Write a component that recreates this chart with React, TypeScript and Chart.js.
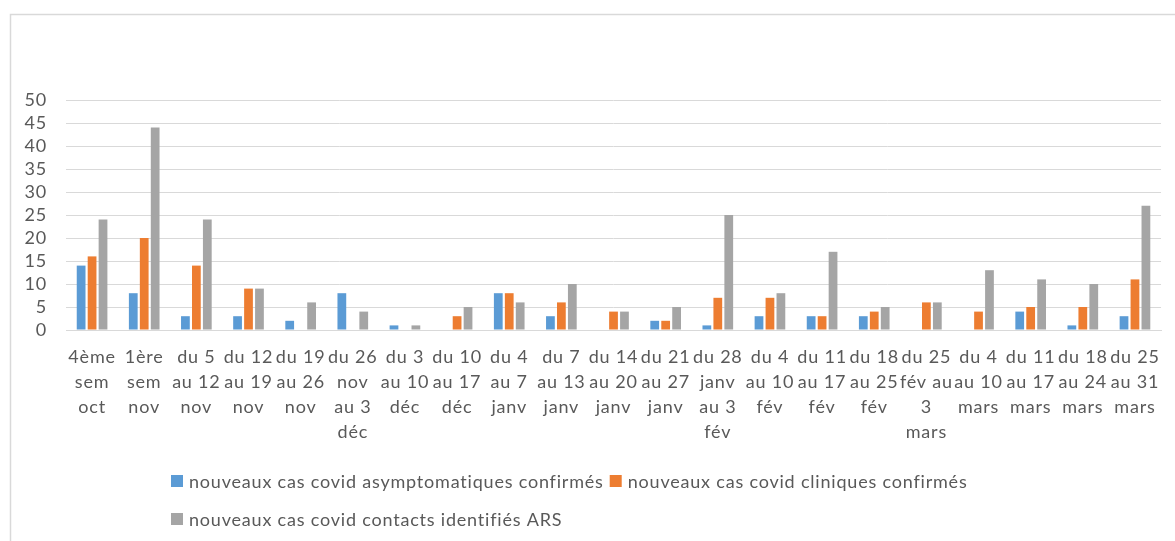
import React, { useEffect, useRef } from "react";
import { Chart, registerables } from "chart.js";

Chart.register(...registerables);

const categories: string[][] = [
  ["4ème", "sem", "oct"],
  ["1ère", "sem", "nov"],
  ["du 5", "au 12", "nov"],
  ["du 12", "au 19", "nov"],
  ["du 19", "au 26", "nov"],
  ["du 26", "nov", "au 3", "déc"],
  ["du 3", "au 10", "déc"],
  ["du 10", "au 17", "déc"],
  ["du 4", "au 7", "janv"],
  ["du 7", "au 13", "janv"],
  ["du 14", "au 20", "janv"],
  ["du 21", "au 27", "janv"],
  ["du 28", "janv", "au 3", "fév"],
  ["du 4", "au 10", "fév"],
  ["du 11", "au 17", "fév"],
  ["du 18", "au 25", "fév"],
  ["du 25", "fév au", "3", "mars"],
  ["du 4", "au 10", "mars"],
  ["du 11", "au 17", "mars"],
  ["du 18", "au 24", "mars"],
  ["du 25", "au 31", "mars"],
];

const asymptomatiques = [14, 8, 3, 3, 2, 8, 1, 0, 8, 3, 0, 2, 1, 3, 3, 3, 0, 0, 4, 1, 3];
const cliniques = [16, 20, 14, 9, 0, 0, 0, 3, 8, 6, 4, 2, 7, 7, 3, 4, 6, 4, 5, 5, 11];
const contacts = [24, 44, 24, 9, 6, 4, 1, 5, 6, 10, 4, 5, 25, 8, 17, 5, 6, 13, 11, 10, 27];

const seriesLabels = [
  "nouveaux cas covid asymptomatiques confirmés",
  "nouveaux cas covid cliniques confirmés",
  "nouveaux cas covid contacts identifiés ARS",
];
const seriesColors = ["#5B9BD5", "#ED7D31", "#A5A5A5"];

const yMin = 0;
const yMax = 50;
const yStep = 5;

const FONT = "Lato, 'Open Sans', sans-serif";
const TEXT_COLOR = "#595959";
const GRID_COLOR = "#D9D9D9";
const LETTER_SPACING = "0.8px";

const spacingPlugin = {
  id: "spacing",
  beforeLayout(chart: any) {
    (chart.ctx as any).letterSpacing = LETTER_SPACING;
  },
  beforeDraw(chart: any) {
    (chart.ctx as any).letterSpacing = LETTER_SPACING;
  },
};

const framePlugin = {
  id: "frame",
  beforeDraw(chart: any) {
    const ctx = chart.ctx;
    ctx.save();
    ctx.fillStyle = "#ffffff";
    ctx.fillRect(0, 0, chart.width, chart.height);
    ctx.strokeStyle = GRID_COLOR;
    ctx.lineWidth = 1.5;
    ctx.beginPath();
    ctx.moveTo(10.5, chart.height);
    ctx.lineTo(10.5, 14.5);
    ctx.lineTo(chart.width, 14.5);
    ctx.stroke();
    ctx.restore();
  },
};

const customLegend = {
  id: "customLegend",
  afterDraw(chart: any) {
    const ctx = chart.ctx;
    ctx.save();
    ctx.letterSpacing = LETTER_SPACING;
    ctx.font = `18px ${FONT}`;
    ctx.textBaseline = "middle";
    ctx.textAlign = "left";
    const startX = 171;
    const maxRight = 1000;
    let x = startX;
    let y = 481;
    const box = 12;
    chart.data.datasets.forEach((ds: any) => {
      const tw = ctx.measureText(ds.label).width;
      const w = box + 6 + tw;
      if (x > startX && x + w > maxRight) {
        x = startX;
        y += 38;
      }
      ctx.fillStyle = ds.backgroundColor;
      ctx.fillRect(x, y - box / 2, box, box);
      ctx.fillStyle = TEXT_COLOR;
      ctx.fillText(ds.label, x + box + 6, y + 1);
      x += w + 6;
    });
    ctx.restore();
  },
};

export default function App() {
  const canvasRef = useRef<HTMLCanvasElement | null>(null);

  useEffect(() => {
    if (!canvasRef.current) return;
    const datasets = [asymptomatiques, cliniques, contacts].map((values, i) => ({
      label: seriesLabels[i],
      data: values,
      backgroundColor: seriesColors[i],
      borderWidth: 0,
      categoryPercentage: 0.63,
      barPercentage: 0.8,
    }));
    const chart = new Chart(canvasRef.current, {
      type: "bar",
      data: { labels: categories, datasets },
      plugins: [spacingPlugin, framePlugin, customLegend],
      options: {
        responsive: false,
        animation: false,
        devicePixelRatio: 1,
        layout: { padding: { left: 10, right: 10, top: 100, bottom: 86 } },
        plugins: {
          legend: { display: false },
          tooltip: { enabled: false },
          title: { display: false },
        },
        scales: {
          x: {
            grid: { display: false, drawTicks: false },
            border: { display: true, color: GRID_COLOR, width: 1 },
            ticks: {
              color: TEXT_COLOR,
              font: { family: FONT, size: 18, lineHeight: 25 / 18 },
              padding: 15,
              maxRotation: 0,
              minRotation: 0,
              autoSkip: false,
            },
            afterFit: (axis: any) => {
              axis.height = 125;
            },
          },
          y: {
            min: yMin,
            max: yMax,
            grid: { color: GRID_COLOR, lineWidth: 1, drawTicks: false },
            border: { display: false },
            ticks: {
              stepSize: yStep,
              autoSkip: false,
              color: TEXT_COLOR,
              font: { family: FONT, size: 18, lineHeight: 1 },
              padding: 19,
            },
            afterFit: (axis: any) => {
              axis.width = 56;
            },
          },
        },
      },
    } as any);
    return () => chart.destroy();
  }, []);

  return (
    <div style={{ position: "fixed", left: 0, top: 0, width: 1175, height: 541, background: "#fff" }}>
      <canvas ref={canvasRef} width={1175} height={541} style={{ display: "block" }} />
    </div>
  );
}
